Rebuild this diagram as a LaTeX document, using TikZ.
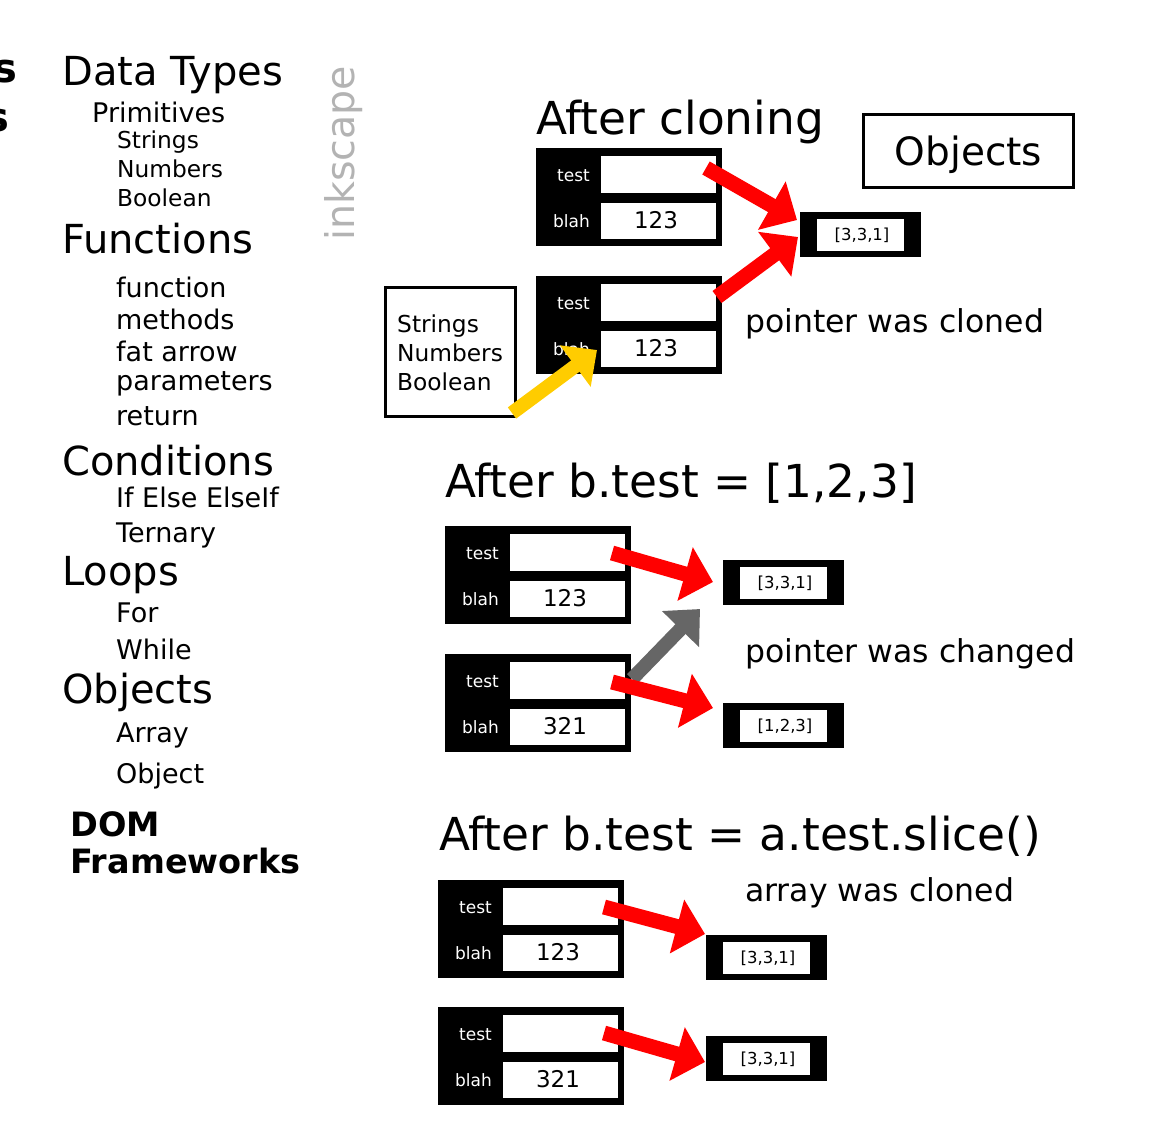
\documentclass[tikz,border=0pt]{standalone}
\usepackage{fontspec}
\setmainfont{DejaVu Sans}
\usetikzlibrary{arrows.meta}
\definecolor{arrred}{HTML}{FF0000}
\definecolor{arryel}{HTML}{FFCC00}
\definecolor{arrgry}{HTML}{666666}
\definecolor{inkgry}{HTML}{B3B3B3}
\newcommand{\fs}[1]{\fontsize{#1}{#1}\selectfont}
\newcommand{\mkrec}[4]{%
  \begin{scope}[shift={(#2,#3)}]
    \node[recbg, minimum width=186pt, minimum height=98pt] (#1) at (0,0) {};
    \node[cellbox, minimum height=37pt] (#1-t) at (65,8) {};
    \node[cellbox, minimum height=36pt] (#1-b) at (65,55) {};
    \node[lab] (#1-tl) at (54,33) {test};
    \node[lab] (#1-bl) at (54,79) {blah};
    \node[val] (#1-v) at (120,80) {#4};
  \end{scope}}
\newcommand{\mkarr}[4]{%
  \begin{scope}[shift={(#2,#3)}]
    \node[recbg, minimum width=121pt, minimum height=45pt] (#1) at (0,0) {};
    \node[cellbox, minimum width=87pt, minimum height=32pt] (#1-i) at (17,7) {};
    \node[arrtxt] (#1-x) at (62,28) {#4};
  \end{scope}}
\tikzset{
  recbg/.style={fill=black, draw=none, inner sep=0pt, outer sep=0pt, anchor=north west},
  cellbox/.style={fill=white, draw=none, inner sep=0pt, outer sep=0pt, anchor=north west, minimum width=115pt},
  lab/.style={text=white, font=\fs{17}, inner sep=0pt, anchor=base east},
  val/.style={font=\fs{23}, inner sep=0pt, anchor=base},
  arrtxt/.style={font=\fs{16.5}, inner sep=0pt, anchor=base},
  txt/.style={inner sep=0pt, anchor=base west},
  head/.style={txt, font=\fs{40}},
  sub/.style={txt, font=\fs{27}},
  subsub/.style={txt, font=\fs{23.3}},
  boldt/.style={txt, font=\fs{33.5}\bfseries},
  title/.style={txt, font=\fs{45.4}},
  note/.style={txt, font=\fs{31.5}},
  redarrow/.style={draw=arrred, line width=15pt, -{Triangle[length=29pt,width=54pt]}},
  yelarrow/.style={draw=arryel, line width=14pt, -{Triangle[length=27pt,width=50pt]}},
  gryarrow/.style={draw=arrgry, line width=14pt, -{Triangle[length=28pt,width=50pt]}},
  framebox/.style={draw=black, line width=3.2pt, fill=white, inner sep=0pt, anchor=north west}
}
\begin{document}
\begin{tikzpicture}[x=1pt,y=-1pt]
\useasboundingbox (0,0) rectangle (1156,1141);

% ---- left column ----
\node[txt, font=\fs{40}\bfseries, anchor=base east] (s1) at (18,82) {s};
\node[txt, font=\fs{40}\bfseries, anchor=base east] (s2) at (10,131) {s};
\node[head] (dt) at (62,85) {Data Types};
\node[sub] (prim) at (92,122) {Primitives};
\node[subsub] (str) at (117,148) {Strings};
\node[subsub] (num) at (117,177) {Numbers};
\node[subsub] (boo) at (117,206) {Boolean};
\node[head] (fun) at (62,253) {Functions};
\node[sub] (f1) at (116,297) {function};
\node[sub] (f2) at (116,329) {methods};
\node[sub] (f3) at (116,361) {fat arrow};
\node[sub] (f4) at (116,390) {parameters};
\node[sub] (f5) at (116,425) {return};
\node[head] (cond) at (62,475) {Conditions};
\node[sub] (c1) at (116,507) {If Else ElseIf};
\node[sub] (c2) at (116,542) {Ternary};
\node[head] (loop) at (62,585) {Loops};
\node[sub] (l1) at (116,622) {For};
\node[sub] (l2) at (116,659) {While};
\node[head] (obj) at (62,703) {Objects};
\node[sub] (o1) at (116,742) {Array};
\node[sub] (o2) at (116,783) {Object};
\node[boldt] (dom) at (70,836) {DOM};
\node[boldt] (fw) at (70,873) {Frameworks};
\node[txt, font=\fs{39.5}, text=inkgry, rotate=90] (ink) at (354,241) {inkscape};

% ---- section 1 ----
\node[title] (t1) at (536,134) {After cloning};
\node[framebox, minimum width=209.8pt, minimum height=72.8pt] (objbox) at (862,113) {};
\node[font=\fs{39}, inner sep=0pt, anchor=base] (objtxt) at (968.5,165) {Objects};
\node[framebox, minimum width=129.8pt, minimum height=128.8pt] (sbox) at (384,286) {};
\node[subsub] (sb1) at (397,332) {Strings};
\node[subsub] (sb2) at (397,361) {Numbers};
\node[subsub] (sb3) at (397,390) {Boolean};
\mkrec{ra}{536}{148}{123}
\mkrec{rb}{536}{276}{123}
\mkarr{aa}{800}{212}{[3,3,1]}
\node[note] (n1) at (745,332) {pointer was cloned};
\coordinate (a1s) at (706,168);
\coordinate (a1e) at (797,220);
\coordinate (a2s) at (717,297);
\coordinate (a2e) at (798,237);
\coordinate (ys) at (512,413);
\coordinate (ye) at (597,350);
\draw[redarrow] (a1s) -- (a1e);
\draw[redarrow] (a2s) -- (a2e);
\draw[yelarrow] (ys) -- (ye);

% ---- section 2 ----
\node[title] (t2) at (445,497) {After b.test = [1,2,3]};
\mkrec{rc}{445}{526}{123}
\mkrec{rd}{445}{654}{321}
\mkarr{ae}{723}{560}{[3,3,1]}
\mkarr{af}{723}{703}{[1,2,3]}
\node[note] (n2) at (745,662) {pointer was changed};
\coordinate (ces) at (612,553);
\coordinate (cee) at (713,582);
\coordinate (gs) at (632,679);
\coordinate (ge) at (700,609);
\coordinate (dfs) at (612,682);
\coordinate (dfe) at (713,708);
\draw[redarrow] (ces) -- (cee);
\draw[gryarrow] (gs) -- (ge);
\draw[redarrow] (dfs) -- (dfe);

% ---- section 3 ----
\node[title] (t3) at (439,850) {After b.test = a.test.slice()};
\node[note] (n3) at (745,901) {array was cloned};
\mkrec{rg}{438}{880}{123}
\mkrec{rh}{438}{1007}{321}
\mkarr{ai}{706}{935}{[3,3,1]}
\mkarr{aj}{706}{1036}{[3,3,1]}
\coordinate (gis) at (604,907);
\coordinate (gie) at (705,934);
\coordinate (hjs) at (604,1033);
\coordinate (hje) at (705,1062);
\draw[redarrow] (gis) -- (gie);
\draw[redarrow] (hjs) -- (hje);
\end{tikzpicture}
\end{document}
